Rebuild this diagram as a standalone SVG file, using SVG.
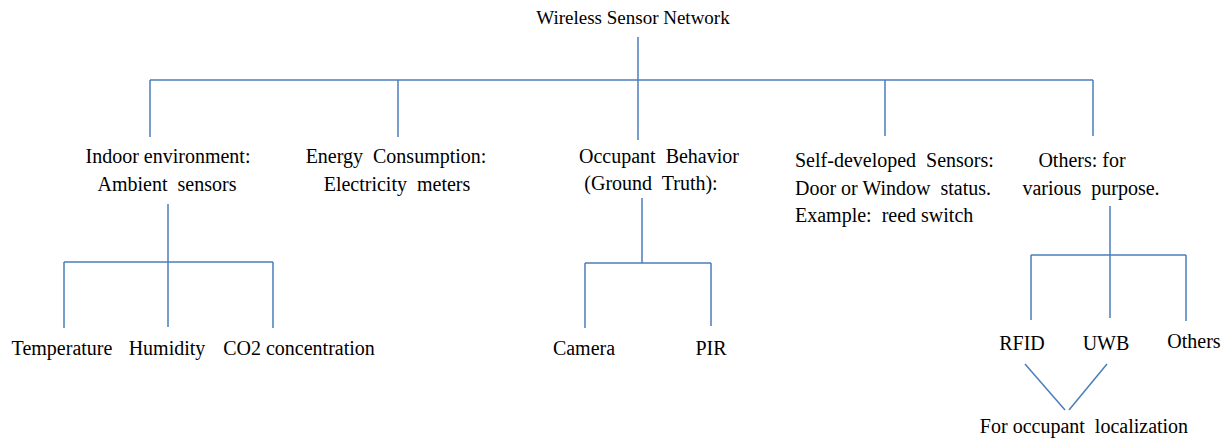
<svg xmlns="http://www.w3.org/2000/svg" width="1227" height="439" viewBox="0 0 1227 439">
<style>
text{font-family:"Liberation Serif","Times New Roman","DejaVu Serif",serif;font-size:20px;fill:#000;white-space:pre;}
.t{font-size:19px;}
.m{text-anchor:middle;}
.c{fill:none;stroke:#4A7EBB;stroke-width:1.5;}
</style>
<rect width="1227" height="439" fill="#fff"/>
<g id="connectors" class="c">
<path d="M638 37V80M150 80H1093M150 80V137M398 80V137M638 80V140M885 80V136M1093 80V136"/>
<path d="M168 204V262M64 262H273M64 262V328M168 262V327M273 262V328"/>
<path d="M642 198V263M585 263H711M585 263V328M711 263V326"/>
<path d="M1110 206V255M1031 255H1186M1031 255V320M1110 255V318M1186 255V321"/>
<path d="M1025 364L1065 410M1107 364L1069 410"/>
</g>
<g id="root" font-family="Liberation Serif, serif"><text class="t m" x="633" y="24">Wireless Sensor Network</text></g>
<g id="indoor" font-family="Liberation Serif, serif"><text class="m" x="168" y="163">Indoor environment:</text><text class="m" x="167" y="191" xml:space="preserve">Ambient  sensors</text></g>
<g id="energy" font-family="Liberation Serif, serif"><text class="m" x="396" y="163" xml:space="preserve">Energy  Consumption:</text><text class="m" x="397" y="191" xml:space="preserve">Electricity  meters</text></g>
<g id="occupant" font-family="Liberation Serif, serif"><text class="m" x="659" y="163" xml:space="preserve">Occupant  Behavior</text><text class="m" x="651" y="190" xml:space="preserve">(Ground  Truth):</text></g>
<g id="self" font-family="Liberation Serif, serif"><text x="795" y="167" xml:space="preserve">Self-developed  Sensors:</text><text x="795" y="195" xml:space="preserve">Door or Window  status.</text><text x="795" y="222" xml:space="preserve">Example:  reed switch</text></g>
<g id="others" font-family="Liberation Serif, serif"><text class="m" x="1082" y="167">Others: for</text><text class="m" x="1091" y="195" xml:space="preserve">various  purpose.</text></g>
<g id="temperature"><text class="m" x="62" y="355">Temperature</text></g>
<g id="humidity"><text class="m" x="167" y="355">Humidity</text></g>
<g id="co2"><text class="m" x="299" y="355">CO2 concentration</text></g>
<g id="camera"><text class="m" x="584" y="355">Camera</text></g>
<g id="pir"><text class="m" x="711" y="355">PIR</text></g>
<g id="rfid"><text class="m" x="1022" y="350">RFID</text></g>
<g id="uwb"><text class="m" x="1106" y="350">UWB</text></g>
<g id="others2"><text class="m" x="1194" y="348">Others</text></g>
<g id="localization"><text class="m" x="1084" y="433" xml:space="preserve">For occupant  localization</text></g>
</svg>
